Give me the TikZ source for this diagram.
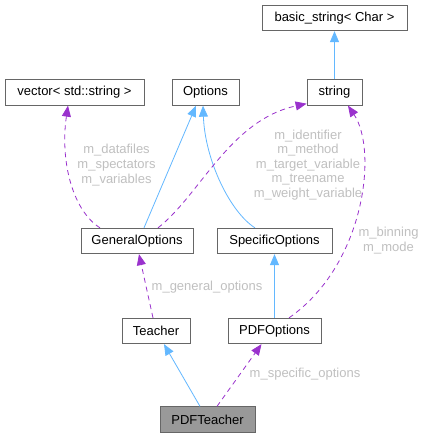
\documentclass[tikz,border=0pt]{standalone}
\usepackage{fontspec}
\setmainfont{Liberation Sans}
\usetikzlibrary{arrows.meta}
\definecolor{dxBlue}{HTML}{63B8FF}
\definecolor{dxPurple}{HTML}{9A32CD}
\definecolor{dxEdge}{HTML}{666666}
\definecolor{dxFill}{HTML}{999999}
\definecolor{dxLabel}{HTML}{C0C0C0}
\begin{document}
\begin{tikzpicture}[x=1pt,y=-1pt,font=\fontsize{13}{14.6}\selectfont,>={Triangle[length=11pt,width=9pt]},
  cls/.style={draw=dxEdge,line width=0.8pt,fill=white,minimum width=#1,minimum height=25.5pt,inner sep=0pt},
  inh/.style={->,dxBlue,line width=0.8pt},
  usg/.style={->,dxPurple,line width=0.8pt,dash pattern=on 5pt off 4pt},
  lbl/.style={text=dxLabel,align=center,inner sep=0pt}]
\useasboundingbox[fill=white] (0,0) rectangle (425,437);
\node[cls=145pt] (basicstr) at (334.5,18) {basic\_string< Char >};
\node[cls=139pt] (vector) at (74.5,92.5) {vector< std::string >};
\node[cls=67pt] (options) at (205.5,92.5) {Options};
\node[cls=55pt] (string) at (334.5,92.5) {string};
\node[cls=112pt] (genopt) at (137,241) {GeneralOptions};
\node[cls=115pt] (specopt) at (274.5,241) {SpecificOptions};
\node[cls=68pt] (teacher) at (156,331) {Teacher};
\node[cls=93pt] (pdfopt) at (274.5,331) {PDFOptions};
\node[cls=95pt,fill=dxFill] (pdfteacher) at (207.5,419.5) {PDFTeacher};
\draw[inh] (string) -- (basicstr);
\draw[inh] ([xshift=7pt]genopt.north) -- ([xshift=-9.5pt]options.south);
\draw[inh] ([xshift=-19.5pt]specopt.north) .. controls (230,212) and (205,160) .. ([xshift=-2.5pt]options.south);
\draw[inh] (pdfopt) -- (specopt);
\draw[inh] ([xshift=-7.5pt]pdfteacher.north) -- ([xshift=8pt]teacher.south);
\draw[usg] ([xshift=-37pt]genopt.north) .. controls (72,210) and (60,160) .. ([xshift=-6.5pt]vector.south);
\draw[usg] ([xshift=21pt]genopt.north) .. controls (200,195) and (230,120) .. ([yshift=2pt]string.south west);
\draw[usg] ([xshift=14.5pt]pdfopt.north) .. controls (365,265) and (378,150) .. ([xshift=13.5pt]string.south);
\draw[usg] ([xshift=-3pt]teacher.north) -- ([xshift=2pt]genopt.south);
\draw[usg] ([xshift=9.5pt]pdfteacher.north) -- ([xshift=-13pt]pdfopt.south);
\node[lbl] (dflbl) at (116.5,165) {m\_datafiles\\m\_spectators\\m\_variables};
\node[lbl] (idlbl) at (308,165) {m\_identifier\\m\_method\\m\_target\_variable\\m\_treename\\m\_weight\_variable};
\node[lbl] (binlbl) at (388.5,240.5) {m\_binning\\m\_mode};
\node[lbl] (genlbl) at (207,287) {m\_general\_options};
\node[lbl] (speclbl) at (305,374) {m\_specific\_options};
\end{tikzpicture}
\end{document}
